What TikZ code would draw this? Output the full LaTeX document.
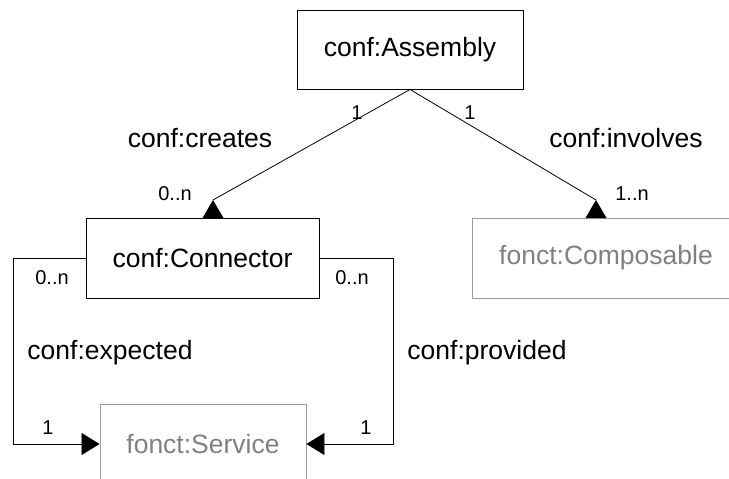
\documentclass[tikz,border=0pt]{standalone}
\usepackage{fontspec}
\setmainfont{Liberation Sans}
\usetikzlibrary{arrows.meta}
\definecolor{greytext}{RGB}{128,128,128}
\definecolor{greyline}{RGB}{155,155,155}
\begin{document}
\begin{tikzpicture}[x=1pt,y=-1pt,
  cls/.style={draw=black,line width=0.9pt,inner sep=0pt,minimum height=80pt,font=\fontsize{26.5}{30}\selectfont},
  ext/.style={cls,draw=greyline,text=greytext},
  rel/.style={font=\fontsize{26.5}{30}\selectfont,inner sep=0pt},
  mult/.style={font=\fontsize{20}{24}\selectfont,inner sep=0pt},
  link/.style={line width=0.8pt},
  tip/.style={-{Triangle[length=18pt,width=22pt]}}]
\useasboundingbox (0,0) rectangle (729,479);
\clip (0,0) rectangle (729,479);
\node[cls,minimum width=226pt,minimum height=79pt] (asm) at (410,49.5) {conf:Assembly};
\node[cls,minimum width=233pt] (con) at (202.5,258) {conf:Connector};
\node[ext,minimum width=268pt] (cmp) at (606,258) {fonct:Composable};
\node[ext,minimum width=206pt] (srv) at (203,444) {fonct:Service};

% diagonal connectors with upward triangles
\coordinate (a1) at (213,200);
\coordinate (a2) at (596,200);
\draw[link] (asm.south) -- (a1);
\draw[link] (asm.south) -- (a2);
\fill (a1) -- ++(-10.5,18) -- ++(21,0) -- cycle;
\fill (a2) -- ++(-10.5,18) -- ++(21,0) -- cycle;

% elbow connectors
\coordinate (l1) at (13,258);
\coordinate (r1) at (393,258);
\draw[link,tip] (con.west) -- (l1) |- (srv.west);
\draw[link,tip] (con.east) -- (r1) |- (srv.east);

% labels
\node[mult] (m1) at (357,113) {1};
\node[mult] (m2) at (470,113) {1};
\node[mult] (m3) at (175,194) {0..n};
\node[mult] (m4) at (632,194) {1..n};
\node[mult] (m5) at (52,278) {0..n};
\node[mult] (m6) at (352,278) {0..n};
\node[mult] (m7) at (48,428) {1};
\node[mult] (m8) at (366,428) {1};
\node[rel] (r-cr) at (200,138) {conf:creates};
\node[rel] (r-in) at (626,138) {conf:involves};
\node[rel] (r-ex) at (110,353) {conf:expected};
\node[rel] (r-pr) at (487,353) {conf:provided};
\end{tikzpicture}
\end{document}
